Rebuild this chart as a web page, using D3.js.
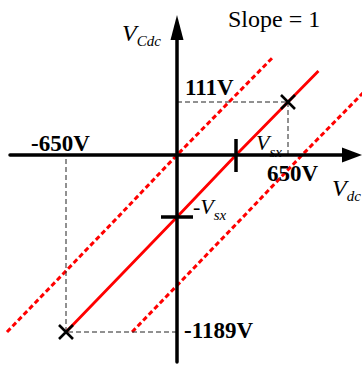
<!DOCTYPE html>
<html>
<head>
<meta charset="utf-8">
<script src="https://cdn.jsdelivr.net/npm/d3@7"></script>
<style>
  html, body { margin: 0; padding: 0; background: #fff; }
  svg { display: block; }
  .lbl { font-family: "Liberation Serif", "Times New Roman", serif; fill: #000; }
</style>
</head>
<body>
<div id="chart"></div>
<script>
// Operating line of the DC-link capacitor voltage versus DC voltage (slope = 1).
const vsx = 539;                       // offset voltage V_sx
const vdcMarks = [-650, 650];          // operating points on the V_dc axis
const vcdcMarks = [-1189, 111];        // corresponding V_Cdc values
const vdcTickLabels = ["-650V", "650V"];
const vcdcTickLabels = ["-1189V", "111V"];
const solidVdc = [-650, 0, vsx, 650, 715];   // span of the drawn operating line
const upperBandVdc = [-650, 0, vsx, 650, 746];  // span of the upper dotted boundary
const lowerBandVdc = [-650, 0, vsx, 650, 900];  // span of the lower dotted boundary
const bandShift = [-1, 1.12];          // boundary offsets, in multiples of the V_sx spacing

const W = 362, H = 365;
const svg = d3.select("#chart").append("svg").attr("width", W).attr("height", H);

// Schematic (piecewise) scales: the sketch is not drawn to scale.
const x = d3.scaleLinear().domain([-650, 0, vsx, 650]).range([66, 177, 236, 288]);
const y = d3.scaleLinear().domain([-1189, -vsx, 0, 111]).range([332, 217, 155, 102]);

const line = d3.line().x(d => d[0]).y(d => d[1]);
const opPts = v => [x(v), y(v - vsx)];

// Dotted boundary lines: the operating line shifted along V_dc.
const dx = x(vsx) - x(0);
svg.append("defs").append("clipPath").attr("id", "clip")
  .append("rect").attr("x", 0).attr("y", 0).attr("width", W).attr("height", H);
[upperBandVdc, lowerBandVdc].forEach((vals, i) => {
  const k = bandShift[i];
  svg.append("path")
    .attr("clip-path", "url(#clip)")
    .attr("d", line(vals.map(v => { const p = opPts(v); return [p[0] + k * dx, p[1]]; })))
    .attr("fill", "none").attr("stroke", "#f00").attr("stroke-width", 3)
    .attr("stroke-dasharray", "5,3");
});

// Black dashed guides to the operating points
const g = svg.append("g").attr("stroke", "#222").attr("stroke-width", 1)
  .attr("stroke-dasharray", "5,3").attr("fill", "none");
vdcMarks.forEach((v, i) => {
  const px = x(v), py = y(vcdcMarks[i]);
  g.append("path").attr("d", line([[x(0), py], [px, py]]));
  g.append("path").attr("d", line([[px, py], [px, y(0)]]));
});

// Solid operating line
svg.append("path")
  .attr("d", line(solidVdc.map(opPts)))
  .attr("fill", "none").attr("stroke", "#f00").attr("stroke-width", 2.8);

// Axes
const ax = svg.append("g").attr("stroke", "#000").attr("stroke-width", 3.5).attr("stroke-linecap", "round");
ax.append("line").attr("x1", 10).attr("y1", y(0)).attr("x2", 345).attr("y2", y(0));
ax.append("line").attr("x1", x(0)).attr("y1", 362).attr("x2", x(0)).attr("y2", 36);
svg.append("path").attr("d", line([[342, y(0) - 7.5], [362, y(0)], [342, y(0) + 7.5]]) + "Z").attr("fill", "#000");
svg.append("path").attr("d", line([[x(0) - 6.5, 40], [x(0), 15], [x(0) + 6.5, 40]]) + "Z").attr("fill", "#000");

// V_sx ticks
ax.append("line").attr("x1", x(vsx)).attr("y1", y(0) - 16).attr("x2", x(vsx)).attr("y2", y(0) + 17).attr("stroke-linecap", "butt");
ax.append("line").attr("x1", x(0) - 16).attr("y1", y(-vsx)).attr("x2", x(0) + 16).attr("y2", y(-vsx)).attr("stroke-linecap", "butt");

// Operating point markers
vdcMarks.forEach((v, i) => {
  const px = x(v), py = y(vcdcMarks[i]), s = 7;
  svg.append("path")
    .attr("d", `M${px - s},${py - s}L${px + s},${py + s}M${px - s},${py + s}L${px + s},${py - s}`)
    .attr("stroke", "#000").attr("stroke-width", 2.6).attr("fill", "none");
});

// Labels
function sub(xp, yp, main, subTxt, size, subSize, dy, prefix) {
  const t = svg.append("text").attr("class", "lbl").attr("x", xp).attr("y", yp)
    .attr("font-size", size).attr("font-style", "italic");
  if (prefix) t.append("tspan").attr("font-style", "normal").text(prefix);
  t.append("tspan").text(main);
  t.append("tspan").attr("font-size", subSize).attr("dy", dy).text(subTxt);
}
svg.append("text").attr("class", "lbl").attr("x", 228).attr("y", 27).attr("font-size", 24).text("Slope = 1");
sub(122, 41, "V", "Cdc", 24, 15, 5);
sub(332, 196, "V", "dc", 24, 15, 5);
sub(256, 150, "V", "sx", 22, 15, 7);
sub(193, 214, "V", "sx", 22, 15, 6, "-");

const bold = (xp, yp, txt) => svg.append("text").attr("class", "lbl").attr("x", xp).attr("y", yp)
  .attr("font-size", 23).attr("font-weight", "bold").text(txt);
bold(31, 151, vdcTickLabels[0]);
bold(267, 181, vdcTickLabels[1]);
bold(185, 95, vcdcTickLabels[1]);
bold(184, 338, vcdcTickLabels[0]);
</script>
</body>
</html>
